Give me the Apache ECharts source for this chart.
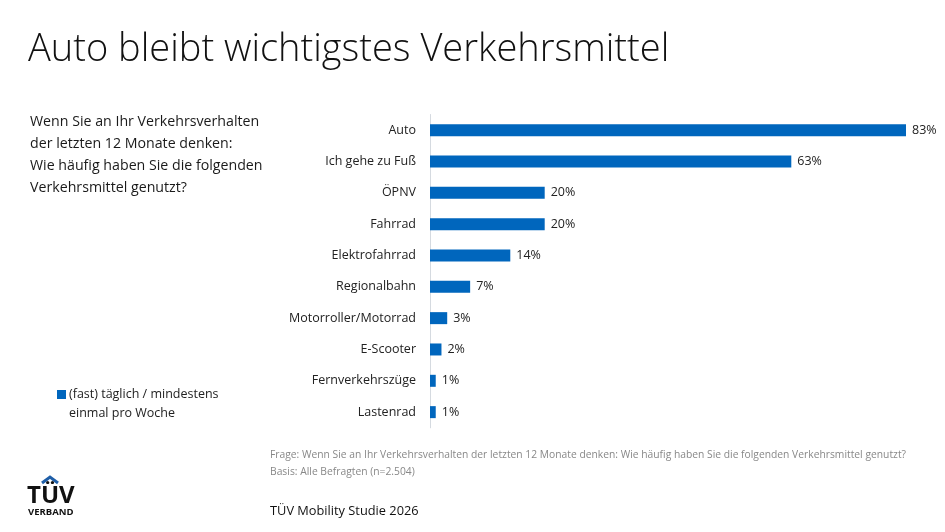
<!DOCTYPE html>
<html><head><meta charset="utf-8">
<script src="https://cdn.jsdelivr.net/npm/echarts@6/dist/echarts.min.js"></script>
<style>html,body{margin:0;padding:0;background:#fff}#c{width:945px;height:532px}</style>
</head><body><div id="c"></div>
<script>
const categories = ['Auto','Ich gehe zu Fuß','ÖPNV','Fahrrad','Elektrofahrrad','Regionalbahn','Motorroller/Motorrad','E-Scooter','Fernverkehrszüge','Lastenrad'];
const values = [83,63,20,20,14,7,3,2,1,1];
const seriesName = '(fast) täglich / mindestens\neinmal pro Woche';
const titleText = 'Auto bleibt wichtigstes Verkehrsmittel';
const questionText = 'Wenn Sie an Ihr Verkehrsverhalten\nder letzten 12 Monate denken:\nWie häufig haben Sie die folgenden\nVerkehrsmittel genutzt?';
const noteText = 'Frage: Wenn Sie an Ihr Verkehrsverhalten der letzten 12 Monate denken: Wie häufig haben Sie die folgenden Verkehrsmittel genutzt?\nBasis: Alle Befragten (n=2.504)';
const sourceText = 'TÜV Mobility Studie 2026';

const FONT = '"Open Sans", "Noto Sans", sans-serif';
const BLUE = '#0066bd';
const chart = echarts.init(document.getElementById('c'), null, {renderer:'canvas'});
chart.setOption({
  animation:false,
  backgroundColor:'#fff',
  textStyle:{fontFamily:FONT},
  grid:{left:430, right:39, top:114.5, height:313.3, containLabel:false},
  xAxis:{type:'value', min:0, max:83, show:false},
  yAxis:{type:'category', inverse:true, data:categories,
    axisLine:{show:true, lineStyle:{color:'#d5dae0', width:1}},
    axisTick:{show:false},
    axisLabel:{color:'#222', fontSize:12.5, margin:14, fontFamily:FONT}},
  series:[{name:seriesName, type:'bar', data:values, barWidth:12,
    itemStyle:{color:BLUE},
    label:{show:true, position:'right', distance:6, formatter:'{c}%', color:'#222', fontSize:12.5, fontFamily:FONT}}],
  graphic:[
    {type:'text', left:28, top:31, style:{text:titleText, font:'300 38px "Open Sans"', fill:'#111'}},
    {type:'text', left:30, top:111, style:{text:questionText, font:'14.2px "Open Sans"', fill:'#1a1a1a', lineHeight:22}},
    {type:'rect', shape:{x:57, y:390, width:9, height:9}, style:{fill:BLUE}},
    {type:'text', left:69, top:385, style:{text:seriesName, font:'12.5px "Open Sans"', fill:'#222', lineHeight:19}},
    {type:'text', left:270, top:447, style:{text:noteText, font:'10.3px "Open Sans"', fill:'#888', lineHeight:17}},
    {type:'text', left:270, top:505, style:{text:sourceText, font:'12.8px "Open Sans"', fill:'#111'}},
    {type:'polyline', shape:{points:[[42,483],[50,477],[58,483]]}, style:{stroke:'#1f5fa8', lineWidth:3, fill:null}},
    {type:'text', left:27, top:484, style:{text:'TÜV', font:'bold 24px "Liberation Sans Narrow", "Open Sans"', fill:'#111'}},
    {type:'text', left:28, top:507, style:{text:'VERBAND', font:'bold 9.5px "Open Sans"', fill:'#111'}}
  ]
});
</script></body></html>
